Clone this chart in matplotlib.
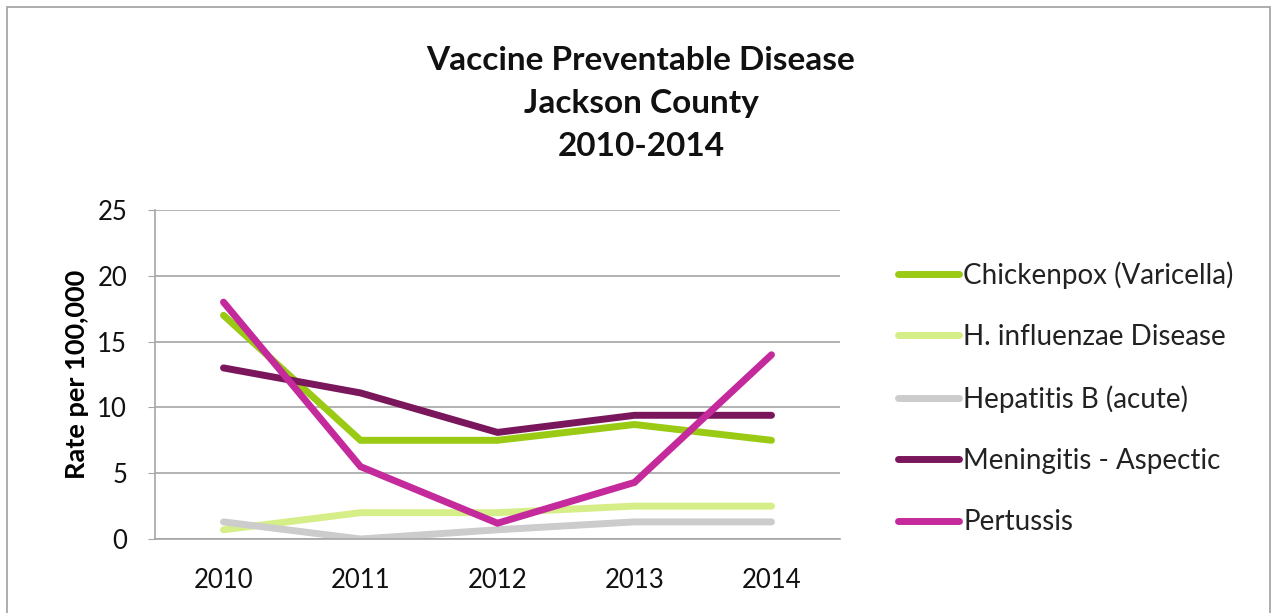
import matplotlib
matplotlib.use("Agg")
import matplotlib.pyplot as plt
from matplotlib.patches import Rectangle

# Rates per 100,000 population, Jackson County
years = ["2010", "2011", "2012", "2013", "2014"]
chickenpox = [17.0, 7.5, 7.5, 8.7, 7.5]
h_influenzae = [0.7, 2.0, 2.0, 2.5, 2.5]
hepatitis_b = [1.3, 0.0, 0.7, 1.3, 1.3]
meningitis = [13.0, 11.1, 8.1, 9.4, 9.4]
pertussis = [18.0, 5.5, 1.2, 4.3, 14.0]

series_names = ["Chickenpox (Varicella)", "H. influenzae Disease",
                "Hepatitis B (acute)", "Meningitis - Aspectic", "Pertussis"]
series_colors = ["#9ACA14", "#D6EE88", "#CCCCCC", "#7A175C", "#C42A9B"]

yticks = [0, 5, 10, 15, 20, 25]

W, H = 1276, 613
fig = plt.figure(figsize=(W / 100, H / 100), dpi=100)
fig.patch.set_facecolor("white")

# outer chart border
fig.patches.append(Rectangle((7 / W, -0.05), (1270 - 7) / W, 1.05 - 7 / H,
                             transform=fig.transFigure, fill=False,
                             edgecolor="#A0A0A0", linewidth=1.2))

ax = fig.add_axes([155 / W, 74 / H, 685 / W, 329 / H])
x = list(range(len(years)))
for vals, name, col in zip([chickenpox, h_influenzae, hepatitis_b, meningitis, pertussis],
                           series_names, series_colors):
    ax.plot(x, vals, color=col, linewidth=5, label=name, solid_capstyle="round",
            solid_joinstyle="miter")

ax.set_xlim(-0.5, len(years) - 0.5)
ax.set_ylim(0, 25)
ax.set_yticks(yticks)
ax.set_xticks(x)
ax.set_xticklabels(years)
ax.yaxis.grid(True, color="#A6A6A6", linewidth=1.2)
ax.set_axisbelow(True)
for s in ["top", "right"]:
    ax.spines[s].set_visible(False)
for s in ["left", "bottom"]:
    ax.spines[s].set_color("#A6A6A6")
    ax.spines[s].set_linewidth(1.2)
ax.tick_params(axis="y", length=5, color="#A6A6A6", pad=15, labelsize=18.5,
               labelcolor="#111111")
ax.tick_params(axis="x", length=0, pad=21, labelsize=18.5, labelcolor="#111111")
for lbl in ax.get_xticklabels() + ax.get_yticklabels():
    lbl.set_family("Lato")

ax.set_ylabel("Rate per 100,000", fontsize=19.5, fontweight="bold",
              family="Lato", labelpad=6)

# three-line title
title_lines = ["Vaccine Preventable Disease", "Jackson County", "2010-2014"]
for i, t in enumerate(title_lines):
    fig.text(641 / W, 1 - (61 + 43 * i) / H, t, ha="center", va="center",
             fontsize=24, fontweight="bold", family="Lato", color="#111111")

leg = fig.legend(loc="upper left", bbox_to_anchor=(873 / W, 1 - 236 / H),
                 bbox_transform=fig.transFigure, frameon=False,
                 handlelength=2.2, handletextpad=0.15, labelspacing=1.27,
                 prop={"family": "Lato", "size": 20})
for txt in leg.get_texts():
    txt.set_color("#222222")

fig.savefig("out.png", dpi=100, facecolor="white")
